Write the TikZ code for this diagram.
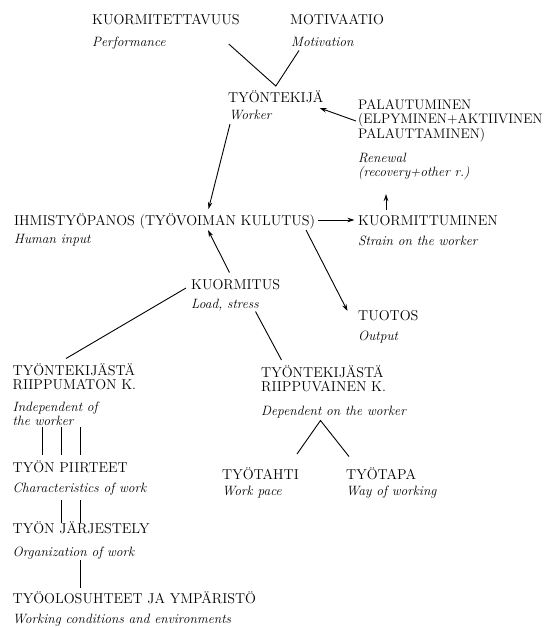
\documentclass[tikz,border=0pt]{standalone}
\usetikzlibrary{calc,arrows.meta}

\begin{document}
\begin{tikzpicture}[x=1pt,y=-1pt]
    \tikzstyle{head}=[inner sep=0pt, anchor=base west, align=left, font=\fontsize{14.3}{14.5}\selectfont]
    \tikzstyle{gloss}=[head, font=\fontsize{13.5}{14}\selectfont\itshape]
    \tikzstyle{link}=[draw=black, line width=0.9pt]
    \tikzstyle{flow}=[link, -{Stealth[length=7pt,width=4.5pt]}]

    \useasboundingbox (0,0) rectangle (545,627);

    % concepts (upper case, Finnish); y is the baseline of the last line
    \foreach \name/\x/\y/\txt in {perf/92/24/KUORMITETTAVUUS, motiv/290/24/MOTIVAATIO,
        worker/228/102/TYÖNTEKIJÄ,
        input/14/225/IHMISTYÖPANOS (TYÖVOIMAN KULUTUS), strain/358/225/KUORMITTUMINEN,
        load/191/289/KUORMITUS, output/358/320/TUOTOS,
        indep/12.5/389.5/{TYÖNTEKIJÄSTÄ\\RIIPPUMATON K.}, dep/261/391.5/{TYÖNTEKIJÄSTÄ\\RIIPPUVAINEN K.},
        feat/12.5/472/TYÖN PIIRTEET, pace/222/479/TYÖTAHTI, way/346/479/TYÖTAPA,
        organ/12.5/533.5/TYÖN JÄRJESTELY, cond/12.5/603/TYÖOLOSUHTEET JA YMPÄRISTÖ}
        \node[head] (\name) at (\x,\y) {\txt};
    \node[head, font=\fontsize{13.8}{14.5}\selectfont] (renew) at (358,138)
        {PALAUTUMINEN\\(ELPYMINEN+AKTIIVINEN\\PALAUTTAMINEN)};

    % english glosses
    \foreach \name/\x/\y/\txt in {perf/92/46/Performance, motiv/291/46/Motivation,
        worker/229/119/Worker, renew/358/176.5/{Renewal\\(recovery+other r.)},
        input/14/243.5/Human input, strain/358/245/Strain on the worker,
        load/191/308.5/{Load, stress}, output/358/340/Output,
        indep/12.5/425/{Independent of\\the worker}, dep/261/415.5/Dependent on the worker,
        feat/12.5/492/Characteristics of work, pace/222/495/Work pace, way/346/495/Way of working,
        organ/12.5/556/Organization of work, cond/12.5/623/Working conditions and environments}
        \node[gloss] (\name-gl) at (\x,\y) {\txt};

    \draw[link] ($(perf.base east)+(-11,20)$) -- ($(worker.north)+(0,-4)$) -- ($(motiv-gl.base west)+(8,4.5)$);
    \draw[flow] ($(worker-gl.base west)+(1,5)$) -- ($(input.base west)+(194.5,-16)$);
    \draw[flow] ($(renew.base west)+(-2,-17)$) -- ($(worker.base east)+(-4,6)$);
    \draw[flow] ($(load.base west)+(38.5,-16.5)$) -- ($(input.base west)+(194,5)$);
    \draw[flow] ($(input.base east)+(2.5,-5)$) -- ($(strain.base west)+(-3.5,-5)$);
    \draw[flow] ($(strain.base west)+(28,-15)$) -- ($(renew-gl.base west)+(28,17.5)$);
    \draw[flow] ($(input.base west)+(292,5)$) -- ($(output.base west)+(-10.5,-9)$);

    \draw[link] ($(load.base west)+(-5,-1)$) -- ($(indep.base west)+(53.5,-31)$);
    \draw[link] ($(load-gl.base west)+(64.5,3)$) -- ($(dep.base west)+(20.5,-31.5)$);
    \draw[link] ($(pace.base west)+(75,-25)$) -- ($(dep-gl.base west)+(59.5,5)$) -- ($(way.base west)+(3,-22.5)$);

    \foreach \bx in {30,49,68}
        \draw[link] ($(indep-gl.base west)+(\bx,2)$) -- ($(feat.base west)+(\bx,-17)$);
    \foreach \bx in {49,68}
        \draw[link] ($(feat-gl.base west)+(\bx,8)$) -- ($(organ.base west)+(\bx,-11)$);
    \draw[link] ($(organ-gl.base west)+(68,4)$) -- ($(cond.base west)+(68,-15.5)$);
\end{tikzpicture}
\end{document}
